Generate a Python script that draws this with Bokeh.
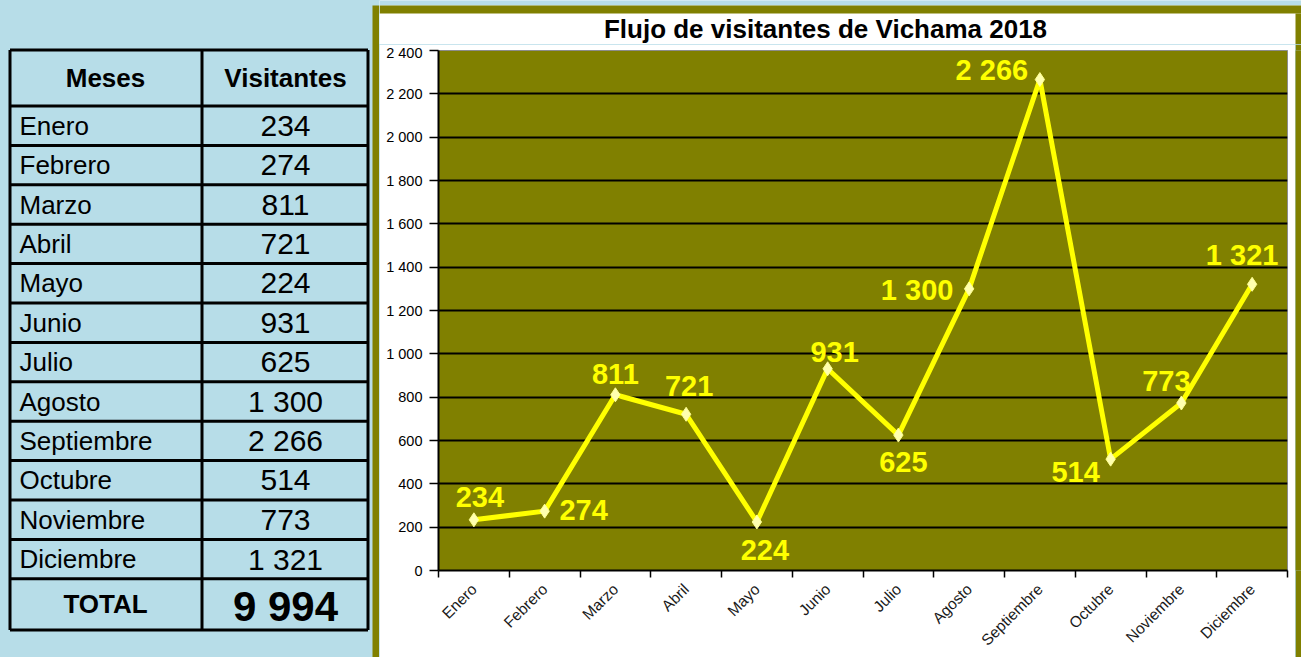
from math import pi
from bokeh.plotting import figure
from bokeh.models import Range1d, LinearAxis, FixedTicker, Grid, ColumnDataSource
from bokeh.layouts import row, column
from bokeh.embed import file_html
from bokeh.resources import INLINE
from bokeh.core.properties import value

# ---------------- data ----------------
months = ["Enero", "Febrero", "Marzo", "Abril", "Mayo", "Junio", "Julio",
          "Agosto", "Septiembre", "Octubre", "Noviembre", "Diciembre"]
visitors = [234, 274, 811, 721, 224, 931, 625, 1300, 2266, 514, 773, 1321]
y_ticks = [0, 200, 400, 600, 800, 1000, 1200, 1400, 1600, 1800, 2000, 2200, 2400]
y_tick_labels = ["0", "200", "400", "600", "800", "1 000", "1 200", "1 400",
                 "1 600", "1 800", "2 000", "2 200", "2 400"]
title_text = "Flujo de visitantes de Vichama 2018"
table_headers = ["Meses", "Visitantes"]
total_label = "TOTAL"

# ---------------- styles ----------------
BLUE = "#b7dde8"
OLIVE = "#808000"
YELLOW = "#ffff00"
FONT = "Liberation Sans"
label_dx = [6, 39, 0, 3, 8, 7, 5, -52, -48, -35, -15, -10]
label_dy = [-23, -1, -21, -28, 28, -17, 27, 1, -10, 13, -22, -29]


def fmt(v):
    return f"{v:,}".replace(",", " ")


def blank_fig(w, h, bg):
    f = figure(width=w, height=h, x_range=Range1d(0, w), y_range=Range1d(h, 0),
               min_border=0, toolbar_location=None, output_backend="svg",
               x_axis_type=None, y_axis_type=None, background_fill_color=bg,
               border_fill_color=bg, outline_line_color=None)
    f.grid.visible = False
    return f


# ---------------- table (left) ----------------
TW, TH = 379, 657
tf = blank_fig(TW, TH, BLUE)
tf.quad(left=[372], right=[TW], top=[5], bottom=[TH], fill_color=OLIVE, line_color=None)

top_y, head_y, row_h, bot_y = 49.5, 105.5, 39.4, 629.5
xl, xm, xr = 9.5, 201.5, 367.5
n = len(months)
hy = [top_y, head_y] + [head_y + row_h * (k + 1) for k in range(n)] + [bot_y]
tf.segment(x0=[xl] * len(hy), x1=[xr] * len(hy), y0=hy, y1=hy, line_color="black", line_width=3)
tf.segment(x0=[xl, xm, xr], x1=[xl, xm, xr], y0=[top_y] * 3, y1=[bot_y] * 3,
           line_color="black", line_width=3)

tf.text(x=[105, 285], y=[(top_y + head_y) / 2] * 2, text=table_headers,
        text_align="center", text_baseline="middle", text_font=value(FONT),
        text_font_style="bold", text_font_size="26px", text_color="black")
row_c = [head_y + row_h * (k + 0.5) for k in range(n)]
tf.text(x=[19] * n, y=row_c, text=months, text_align="left", text_baseline="middle",
        text_font=value(FONT), text_font_size="26px", text_color="black")
tf.text(x=[285] * n, y=row_c, text=[fmt(v) for v in visitors], text_align="center",
        text_baseline="middle", text_font=value(FONT), text_font_size="30px", text_color="black")
ty = (hy[-2] + bot_y) / 2
tf.text(x=[105], y=[ty], text=[total_label], text_align="center", text_baseline="middle",
        text_font=value(FONT), text_font_style="bold", text_font_size="26px", text_color="black")
tf.text(x=[285], y=[ty + 2], text=[fmt(sum(visitors))], text_align="center", text_baseline="middle",
        text_font=value(FONT), text_font_style="bold", text_font_size="42px", text_color="black")

# ---------------- header strip with title ----------------
SW, SH = 922, 44
top_strip = blank_fig(SW, SH, "white")
top_strip.quad(left=[0, 0, 916], right=[SW, SW, SW], top=[0, 5, 13], bottom=[5, 13, SH],
               fill_color=[BLUE, OLIVE, OLIVE], line_color=None)
top_strip.text(x=[446], y=[28], text=[title_text], text_align="center",
               text_baseline="middle", text_font=value(FONT), text_font_style="bold",
               text_font_size="26px", text_color="black")

CH = TH - SH
right_strip = blank_fig(6, CH, OLIVE)

# ---------------- chart ----------------
p = figure(width=916, height=CH, x_range=Range1d(0, n), y_range=Range1d(0, 2400),
           min_border_left=59, min_border_right=8, min_border_top=6, min_border_bottom=86,
           toolbar_location=None, output_backend="svg", x_axis_type=None, y_axis_type=None,
           background_fill_color=OLIVE, border_fill_color="white",
           outline_line_color="#8c8c8c", outline_line_width=1)

yaxis = LinearAxis(ticker=FixedTicker(ticks=y_ticks),
                   major_label_overrides={t: l for t, l in zip(y_ticks, y_tick_labels)},
                   major_tick_out=9, major_tick_in=0, minor_tick_out=0, minor_tick_in=0,
                   major_label_standoff=7, axis_line_color="black", axis_line_width=2,
                   major_tick_line_color="black", major_tick_line_width=1.5,
                   major_label_text_font=FONT, major_label_text_font_size="14.5px",
                   major_label_text_color="#000000")
p.add_layout(yaxis, "left")

centers = [i + 0.5 for i in range(n)]
xaxis = LinearAxis(ticker=FixedTicker(ticks=centers, minor_ticks=list(range(n + 1))),
                   major_label_overrides={c: m for c, m in zip(centers, months)},
                   major_tick_out=0, major_tick_in=0, minor_tick_out=7, minor_tick_in=0,
                   minor_tick_line_color="black", minor_tick_line_width=1.5,
                   major_label_orientation=pi / 4, major_label_standoff=9,
                   axis_line_color="black", axis_line_width=2,
                   major_label_text_font=FONT, major_label_text_font_size="15.5px",
                   major_label_text_color="#1a1a1a")
p.add_layout(xaxis, "below")

p.add_layout(Grid(dimension=1, ticker=FixedTicker(ticks=y_ticks[1:-1]),
                  grid_line_color="black", grid_line_width=2))

src = ColumnDataSource(dict(x=centers, y=visitors, lab=[fmt(v) for v in visitors],
                            dx=label_dx, dy=label_dy))
p.line("x", "y", source=src, line_color=YELLOW, line_width=5)
p.scatter("x", "y", source=src, marker="diamond", size=14,
          fill_color="#ffffb0", line_color="#ffff90", line_width=1)
p.text("x", "y", text="lab", source=src, x_offset="dx", y_offset="dy",
       text_align="center", text_baseline="middle", text_font=value(FONT),
       text_font_style="bold", text_font_size="29px", text_color=YELLOW)

layout = row(tf, column(top_strip, row(p, right_strip, spacing=0), spacing=0), spacing=0)

html = file_html(layout, INLINE, title=title_text)
html = html.replace("</head>",
                    "<style>html,body{margin:0;padding:0;background:%s;overflow:hidden}</style></head>" % BLUE, 1)
open("out.html", "w").write(html)
